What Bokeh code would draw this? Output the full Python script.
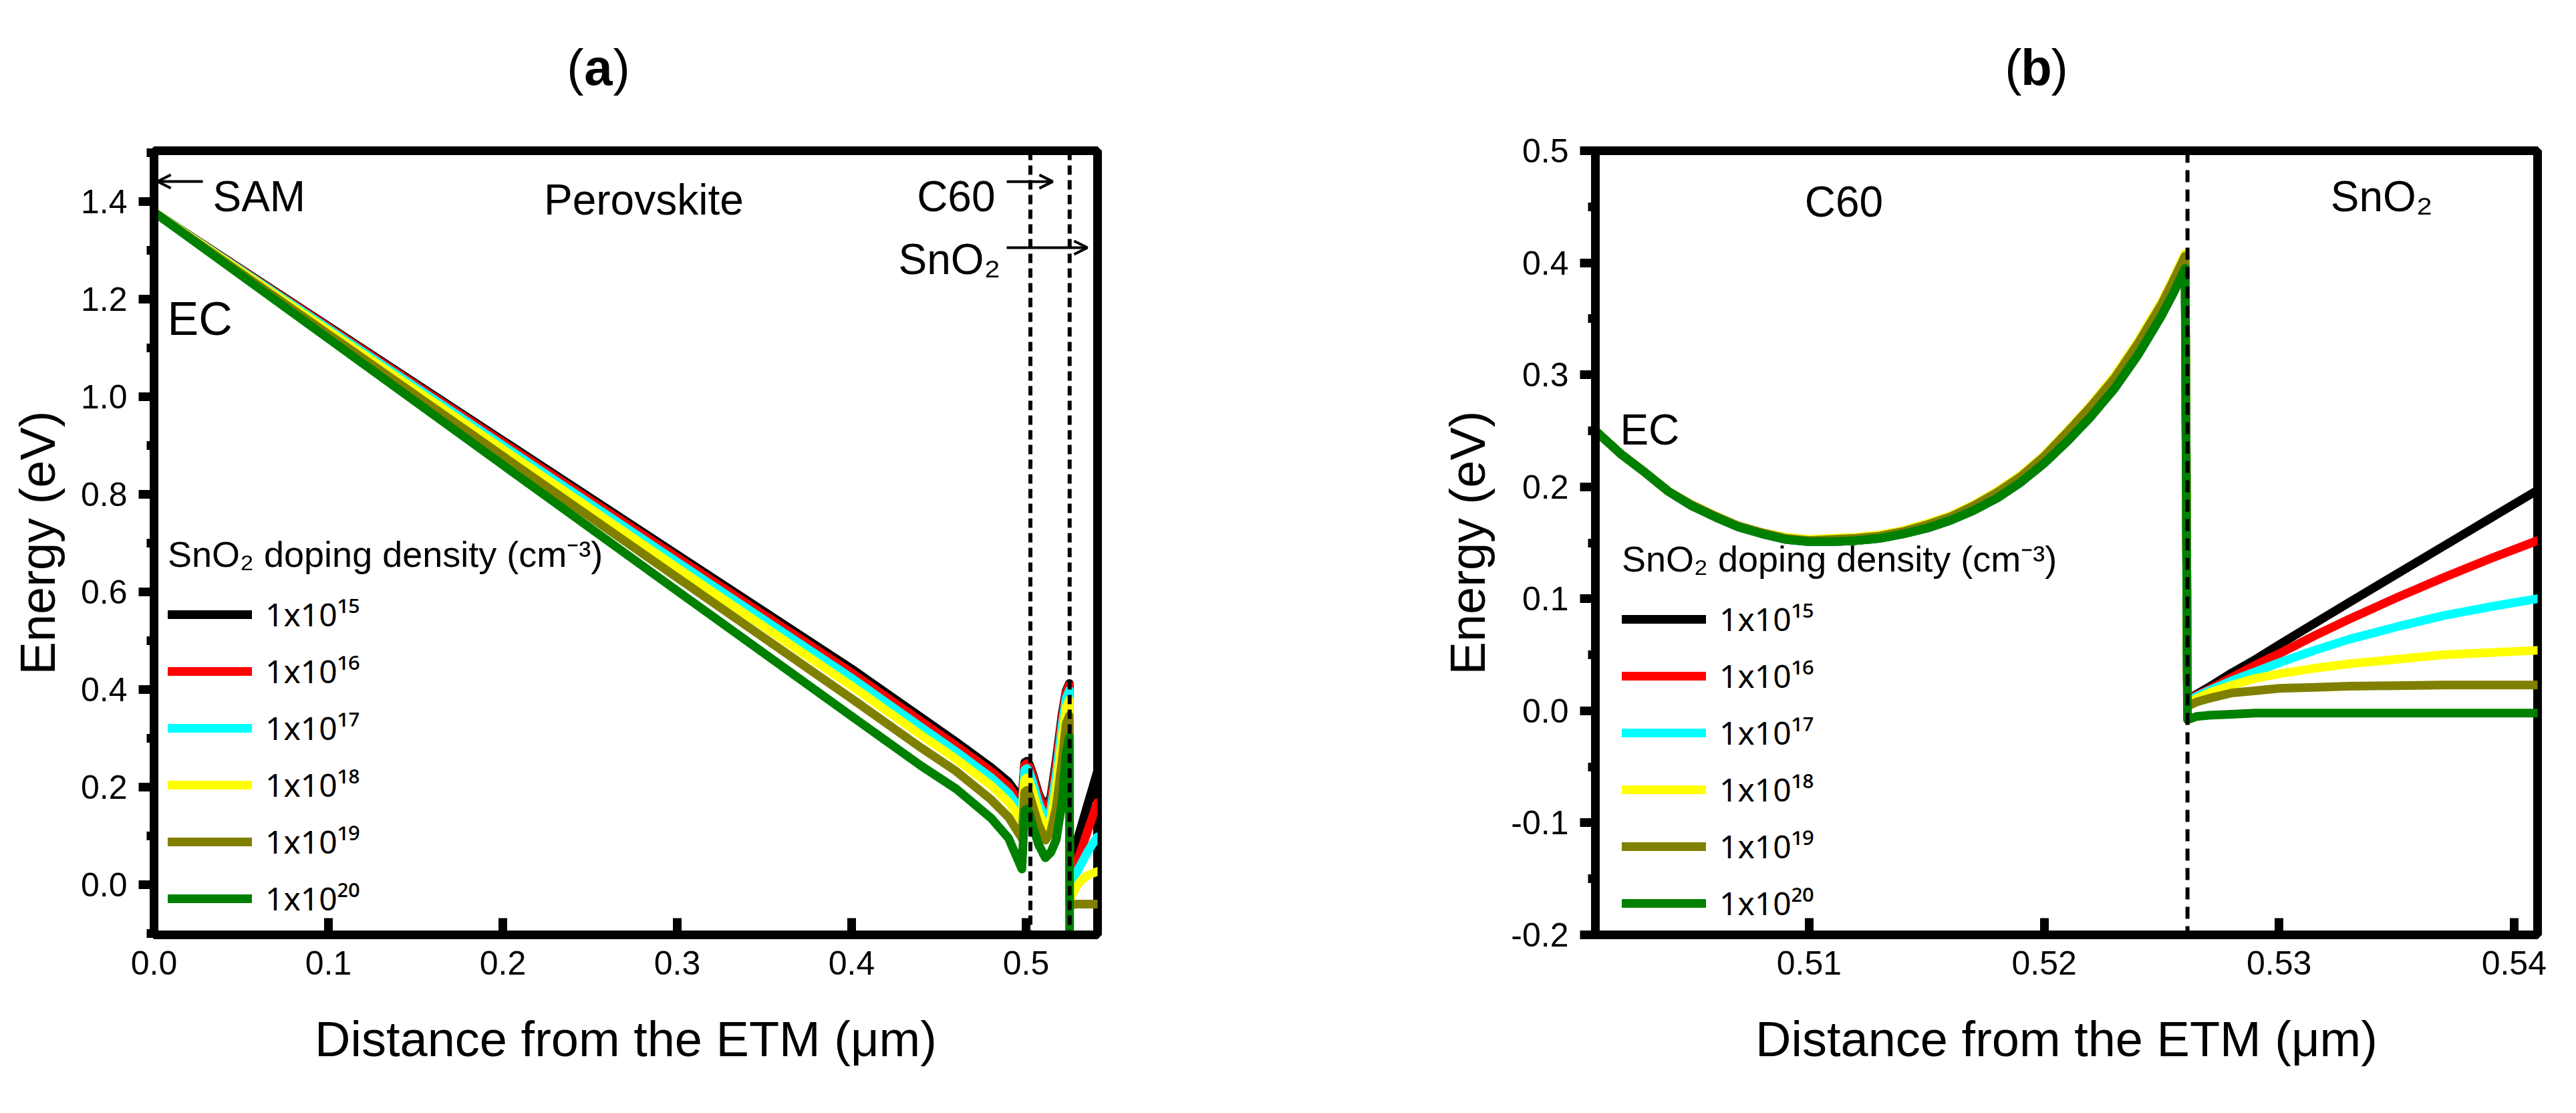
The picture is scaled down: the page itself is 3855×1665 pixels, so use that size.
from bokeh.plotting import figure
from bokeh.models import (Range1d, FixedTicker, CustomJSTickFormatter, Span, Label,
                          Arrow, OpenHead)
from bokeh.layouts import row, column
from bokeh.embed import file_html
from bokeh.resources import INLINE

FONT = "Liberation Sans"
FONT_SUP = "Noto Sans"

# ---------------- data ----------------
series_labels = ["1x10¹⁵", "1x10¹⁶", "1x10¹⁷", "1x10¹⁸", "1x10¹⁹", "1x10²⁰"]
series_colors = ["#000000", "#ff0000", "#00ffff", "#ffff00", "#808000", "#008000"]
legend_title = "SnO₂ doping density (cm⁻³)"

# panel (a): whole device, distance in um, energy in eV
xa = [0.0, 0.1, 0.2, 0.3, 0.4, 0.44, 0.46, 0.48, 0.49, 0.4976,
      0.4992, 0.5005, 0.5019, 0.5038, 0.5072, 0.5111, 0.5142, 0.5173, 0.5207, 0.5230, 0.5248,
      0.5250, 0.5262, 0.5287, 0.5320, 0.5350, 0.5379, 0.5410]
ya_1e15 = [1.378, 1.144, 0.910, 0.676, 0.442, 0.342, 0.292, 0.240, 0.210, 0.172,
           0.250, 0.253, 0.246, 0.227, 0.186, 0.155, 0.180, 0.255, 0.350, 0.397, 0.412,
           0.036, 0.051, 0.082, 0.123, 0.160, 0.195, 0.233]
ya_1e16 = [1.378, 1.142, 0.906, 0.670, 0.434, 0.334, 0.284, 0.232, 0.201, 0.163,
           0.245, 0.248, 0.241, 0.222, 0.181, 0.149, 0.172, 0.245, 0.343, 0.393, 0.409,
           0.012, 0.022, 0.042, 0.075, 0.107, 0.137, 0.168]
ya_1e17 = [1.378, 1.139, 0.900, 0.661, 0.423, 0.322, 0.272, 0.219, 0.187, 0.149,
           0.235, 0.238, 0.230, 0.210, 0.167, 0.132, 0.154, 0.225, 0.327, 0.382, 0.398,
           0.000, 0.008, 0.023, 0.045, 0.065, 0.082, 0.098]
ya_1e18 = [1.378, 1.135, 0.892, 0.649, 0.407, 0.306, 0.257, 0.203, 0.169, 0.131,
           0.216, 0.219, 0.211, 0.190, 0.148, 0.115, 0.135, 0.200, 0.303, 0.363, 0.378,
           -0.035, -0.022, -0.005, 0.010, 0.018, 0.023, 0.027]
ya_1e19 = [1.378, 1.128, 0.878, 0.629, 0.381, 0.280, 0.232, 0.174, 0.138, 0.095,
           0.190, 0.193, 0.185, 0.162, 0.122, 0.091, 0.108, 0.158, 0.255, 0.330, 0.346,
           -0.045, -0.042, -0.040, -0.040, -0.040, -0.040, -0.040]
ya_1e20 = [1.378, 1.119, 0.860, 0.602, 0.345, 0.243, 0.196, 0.136, 0.095, 0.032,
           0.152, 0.155, 0.147, 0.120, 0.082, 0.055, 0.066, 0.092, 0.170, 0.270, 0.302,
           -0.150, -0.150, -0.150, -0.150, -0.150, -0.150, -0.150]
interfaces_a = [0.5025, 0.525]

# panel (b): zoom on C60 / SnO2
xb = [0.5009, 0.502, 0.503, 0.504, 0.505, 0.506, 0.507, 0.508, 0.509, 0.510,
      0.511, 0.512, 0.513, 0.514, 0.515, 0.516, 0.517, 0.518, 0.519, 0.520,
      0.521, 0.522, 0.523, 0.524, 0.525, 0.5255, 0.5260,
      0.5261, 0.5265, 0.527, 0.528, 0.529, 0.530, 0.5315, 0.533, 0.535, 0.537, 0.539, 0.541]
yb_1e15 = [0.250, 0.229, 0.213, 0.196, 0.183, 0.173, 0.164, 0.158, 0.153, 0.151,
           0.151, 0.152, 0.154, 0.158, 0.163, 0.170, 0.179, 0.190, 0.204, 0.221,
           0.241, 0.263, 0.288, 0.318, 0.353, 0.373, 0.395,
           0.010, 0.015, 0.021, 0.034, 0.046, 0.059, 0.078, 0.097, 0.122, 0.147, 0.172, 0.197]
yb_1e16 = [0.250, 0.229, 0.213, 0.196, 0.183, 0.173, 0.164, 0.158, 0.153, 0.151,
           0.151, 0.152, 0.154, 0.158, 0.163, 0.170, 0.179, 0.190, 0.204, 0.221,
           0.241, 0.263, 0.288, 0.318, 0.353, 0.373, 0.395,
           0.010, 0.014, 0.019, 0.030, 0.041, 0.051, 0.067, 0.082, 0.101, 0.119, 0.136, 0.152]
yb_1e17 = [0.250, 0.229, 0.213, 0.196, 0.183, 0.173, 0.164, 0.158, 0.153, 0.151,
           0.151, 0.152, 0.154, 0.158, 0.163, 0.170, 0.179, 0.190, 0.204, 0.221,
           0.241, 0.263, 0.288, 0.318, 0.353, 0.373, 0.395,
           0.009, 0.013, 0.018, 0.027, 0.035, 0.043, 0.054, 0.064, 0.075, 0.085, 0.093, 0.100]
yb_1e18 = [0.250, 0.229, 0.213, 0.196, 0.184, 0.174, 0.165, 0.159, 0.155, 0.153,
           0.154, 0.155, 0.157, 0.161, 0.167, 0.174, 0.184, 0.196, 0.210, 0.228,
           0.250, 0.273, 0.299, 0.330, 0.365, 0.386, 0.408,
           0.007, 0.011, 0.016, 0.023, 0.029, 0.033, 0.038, 0.042, 0.046, 0.050, 0.052, 0.054]
yb_1e19 = [0.250, 0.229, 0.213, 0.196, 0.184, 0.174, 0.165, 0.159, 0.154, 0.152,
           0.153, 0.154, 0.156, 0.160, 0.166, 0.173, 0.183, 0.195, 0.209, 0.227,
           0.249, 0.272, 0.297, 0.328, 0.363, 0.384, 0.406,
           0.004, 0.008, 0.011, 0.016, 0.018, 0.020, 0.021, 0.022, 0.0225, 0.023, 0.023, 0.023]
yb_1e20 = [0.250, 0.229, 0.213, 0.196, 0.183, 0.173, 0.164, 0.158, 0.153, 0.151,
           0.151, 0.152, 0.154, 0.158, 0.163, 0.170, 0.179, 0.190, 0.204, 0.221,
           0.241, 0.263, 0.288, 0.318, 0.353, 0.373, 0.395,
           -0.008, -0.005, -0.004, -0.003, -0.002, -0.002, -0.002, -0.002, -0.002, -0.002,
           -0.002, -0.002]
interfaces_b = [0.5261]

xticks_a = [0.0, 0.1, 0.2, 0.3, 0.4, 0.5]
yticks_a = [0.0, 0.2, 0.4, 0.6, 0.8, 1.0, 1.2, 1.4]
yminor_a = [-0.1, 0.1, 0.3, 0.5, 0.7, 0.9, 1.1, 1.3, 1.5]
xticks_b = [0.51, 0.52, 0.53, 0.54]
yticks_b = [-0.2, -0.1, 0.0, 0.1, 0.2, 0.3, 0.4, 0.5]
yminor_b = [-0.15, -0.05, 0.05, 0.15, 0.25, 0.35, 0.45]

X_TITLE = "Distance from the ETM (μm)"
Y_TITLE = "Energy (eV)"

W_A, W_B = 2150, 1689
TAG_H = 150
MAIN_H = 1649 - TAG_H


def make_fig(width, left, right, top, bottom, xr, yr, xt, yt, ymin, xdec, ydec):
    p = figure(width=width, height=MAIN_H, x_range=Range1d(*xr), y_range=Range1d(*yr),
               output_backend="svg", toolbar_location=None,
               min_border_left=left, min_border_right=right,
               min_border_top=top, min_border_bottom=bottom)
    p.xgrid.visible = False
    p.ygrid.visible = False
    p.background_fill_color = "white"
    p.border_fill_color = "white"
    p.outline_line_color = "black"
    p.outline_line_width = 13
    p.outline_line_alpha = 1.0
    p.xaxis.ticker = FixedTicker(ticks=xt, minor_ticks=[])
    p.yaxis.ticker = FixedTicker(ticks=yt, minor_ticks=ymin)
    p.xaxis.formatter = CustomJSTickFormatter(code="return tick.toFixed(%d)" % xdec)
    p.yaxis.formatter = CustomJSTickFormatter(code="return tick.toFixed(%d)" % ydec)
    for ax in (p.xaxis[0], p.yaxis[0]):
        ax.axis_line_width = 13
        ax.axis_line_color = "black"
        ax.major_tick_line_width = 13
        ax.major_tick_line_color = "black"
        ax.minor_tick_line_width = 13
        ax.minor_tick_line_color = "black"
        ax.major_label_text_font = FONT
        ax.major_label_text_font_size = "50px"
        ax.major_label_text_color = "black"
        ax.axis_label_text_font = FONT
        ax.axis_label_text_font_size = "74px"
        ax.axis_label_text_font_style = "normal"
        ax.axis_label_text_color = "black"
    p.xaxis.major_tick_in = 25
    p.xaxis.major_tick_out = 0
    p.xaxis.major_label_standoff = 24
    p.xaxis.axis_label_standoff = 52
    p.yaxis.major_tick_in = 0
    p.yaxis.major_tick_out = 23
    p.yaxis.minor_tick_in = 0
    p.yaxis.minor_tick_out = 11
    p.yaxis.major_label_standoff = 17
    p.yaxis.axis_label_standoff = 20
    p.xaxis.axis_label = X_TITLE
    p.yaxis.axis_label = Y_TITLE
    return p


def add_series(p, x, ys):
    for y, lab, col in zip(ys, series_labels, series_colors):
        p.line(x, y, line_color=col, line_width=13, line_cap="round",
               line_join="round", legend_label=lab)


def style_legend(p, loc):
    lg = p.legend[0]
    lg.location = loc
    lg.title = legend_title
    lg.title_text_font = FONT
    lg.title_text_font_size = "54px"
    lg.title_text_font_style = "normal"
    lg.title_text_color = "black"
    lg.title_standoff = 22
    lg.label_text_font = FONT_SUP
    lg.label_text_font_size = "48px"
    lg.label_text_color = "black"
    lg.glyph_width = 126
    lg.glyph_height = 60
    lg.label_height = 60
    lg.label_standoff = 20
    lg.spacing = 20
    lg.padding = 0
    lg.margin = 0
    lg.border_line_color = None
    lg.background_fill_alpha = 0


def label(p, x, y, text, size, align="left"):
    p.add_layout(Label(x=x, y=y, text=text, text_font=FONT, text_font_size=size,
                       text_align=align, text_baseline="alphabetic", text_color="black"))


def tag_fig(width, cx, letter):
    t = figure(width=width, height=TAG_H, x_range=Range1d(0, 1), y_range=Range1d(0, 1),
               output_backend="svg", toolbar_location=None, min_border=0,
               x_axis_location=None, y_axis_location=None)
    t.grid.visible = False
    t.outline_line_color = None
    t.background_fill_color = "white"
    t.border_fill_color = "white"
    for txt, align, off, style in (("(", "right", -22, "normal"),
                                   (letter, "center", 0, "bold"),
                                   (")", "left", 22, "normal")):
        t.add_layout(Label(x=cx, y=50, x_units="screen", y_units="screen", x_offset=off,
                           text=txt, text_font=FONT, text_font_size="76px",
                           text_font_style=style, text_align=align,
                           text_baseline="alphabetic", text_color="black"))
    return t


# ---------------- panel (a) ----------------
pa = make_fig(W_A, 230, 508, 225 - TAG_H, 237, (0.0, 0.541), (-0.103, 1.504),
              xticks_a, yticks_a, yminor_a, 1, 1)
add_series(pa, xa, [ya_1e15, ya_1e16, ya_1e17, ya_1e18, ya_1e19, ya_1e20])
for xi in interfaces_a:
    pa.add_layout(Span(location=xi, dimension="height", line_color="black",
                       line_width=6, line_dash="14 8"))
style_legend(pa, (21, 22))
label(pa, 0.0077, 1.159, "EC", "70px")
label(pa, 0.0337, 1.4096, "SAM", "64px")
label(pa, 0.2808, 1.4029, "Perovskite", "64px", align="center")
label(pa, 0.4824, 1.4096, "C60", "64px", align="right")
label(pa, 0.4854, 1.282, "SnO₂", "64px", align="right")
pa.add_layout(Arrow(x_start=0.028, y_start=1.441, x_end=0.002, y_end=1.441,
                    line_width=4, line_color="black",
                    end=OpenHead(size=20, line_width=4, line_color="black")))
pa.add_layout(Arrow(x_start=0.4889, y_start=1.4408, x_end=0.5153, y_end=1.4408,
                    line_width=4, line_color="black",
                    end=OpenHead(size=20, line_width=4, line_color="black")))
pa.add_layout(Arrow(x_start=0.4889, y_start=1.3053, x_end=0.5352, y_end=1.3053,
                    line_width=4, line_color="black",
                    end=OpenHead(size=20, line_width=4, line_color="black")))

# ---------------- panel (b) ----------------
pb = make_fig(W_B, 237, 42, 215 - TAG_H, 251, (0.5009, 0.541), (-0.2, 0.5),
              xticks_b, yticks_b, yminor_b, 2, 1)
add_series(pb, xb, [yb_1e15, yb_1e16, yb_1e17, yb_1e18, yb_1e19, yb_1e20])
for xi in interfaces_b:
    pb.add_layout(Span(location=xi, dimension="height", line_color="black",
                       line_width=6, line_dash="18 11"))
style_legend(pb, (40, 15))
label(pb, 0.50195, 0.2509, "EC", "64px")
label(pb, 0.51148, 0.4544, "C60", "64px", align="center")
label(pb, 0.53219, 0.4592, "SnO₂", "64px")

ta = tag_fig(W_A, 895, "a")
tb = tag_fig(W_B, 897, "b")

layout = column(row(ta, tb), row(pa, pb))
open("out.html", "w").write(file_html(layout, INLINE))
